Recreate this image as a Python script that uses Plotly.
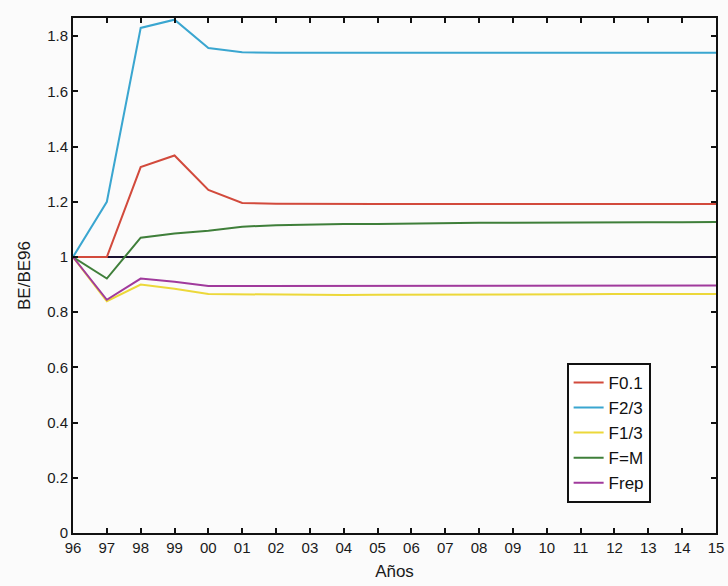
import plotly.graph_objects as go

# Years of the projection and their two-digit labels
years = list(range(1996, 2016))
year_labels = ["96", "97", "98", "99", "00", "01", "02", "03", "04", "05",
               "06", "07", "08", "09", "10", "11", "12", "13", "14", "15"]

# Spawning biomass relative to 1996 (BE/BE96) under each fishing scenario
be_f01 = [1.00, 1.00, 1.326, 1.368, 1.243, 1.196, 1.193, 1.192, 1.192, 1.192,
          1.192, 1.192, 1.192, 1.192, 1.192, 1.192, 1.192, 1.192, 1.192, 1.192]
be_f23 = [1.00, 1.20, 1.83, 1.86, 1.757, 1.742, 1.740, 1.740, 1.740, 1.740,
          1.740, 1.740, 1.740, 1.740, 1.740, 1.740, 1.740, 1.740, 1.740, 1.740]
be_f13 = [1.00, 0.840, 0.900, 0.885, 0.866, 0.865, 0.862, 0.862, 0.862, 0.863,
          0.863, 0.864, 0.864, 0.865, 0.865, 0.865, 0.866, 0.866, 0.866, 0.866]
be_fm = [1.00, 0.922, 1.070, 1.085, 1.095, 1.110, 1.115, 1.118, 1.120, 1.120,
         1.122, 1.123, 1.124, 1.124, 1.125, 1.125, 1.125, 1.126, 1.126, 1.127]
be_frep = [1.00, 0.845, 0.922, 0.910, 0.895, 0.895, 0.895, 0.895, 0.896, 0.896,
           0.896, 0.897, 0.897, 0.897, 0.897, 0.897, 0.897, 0.897, 0.897, 0.897]
be_ref = [1.00] * 20

y_ticks = [0, 0.2, 0.4, 0.6, 0.8, 1.0, 1.2, 1.4, 1.6, 1.8]

FONT = "Liberation Sans, Arial, sans-serif"

fig = go.Figure()

fig.add_trace(go.Scatter(x=years, y=be_ref, mode="lines", showlegend=False,
                         line=dict(color="#1a1030", width=2), hoverinfo="skip"))

series = [
    ("F0.1", be_f01, "#d24a3c"),
    ("F2/3", be_f23, "#3aa6d0"),
    ("F1/3", be_f13, "#ecd83a"),
    ("F=M", be_fm, "#3f7f3a"),
    ("Frep", be_frep, "#a03a9c"),
]
for name, vals, color in series:
    fig.add_trace(go.Scatter(x=years, y=vals, mode="lines", name=name,
                             line=dict(color=color, width=2)))

axis_common = dict(
    showline=True, linecolor="#111", linewidth=1.8, mirror="allticks",
    ticks="inside", ticklen=5, tickwidth=1.5, tickcolor="#111",
    showgrid=False, zeroline=False, automargin=False,
    tickfont=dict(family=FONT, size=15, color="#1a1a1a"),
)

fig.update_xaxes(
    range=[1996, 2015], tickvals=years, ticktext=year_labels,
    title=dict(text="Años", font=dict(family=FONT, size=17, color="#1a1a1a"), standoff=10),
    **axis_common,
)
fig.update_yaxes(
    range=[0, 1.866], tickvals=y_ticks,
    title=dict(text="BE/BE96", font=dict(family=FONT, size=17, color="#1a1a1a"), standoff=12),
    **axis_common,
)

fig.update_layout(
    width=728, height=586,
    margin=dict(l=73, r=12, t=18, b=53),
    paper_bgcolor="#fbfbfb", plot_bgcolor="#fbfbfb",
    legend=dict(
        x=0.768, y=0.33, xanchor="left", yanchor="top",
        bgcolor="#ffffff", bordercolor="#111", borderwidth=1.8,
        entrywidth=70, entrywidthmode="pixels",
        font=dict(family=FONT, size=17, color="#111"),
    ),
)

fig.write_html("out.html")
